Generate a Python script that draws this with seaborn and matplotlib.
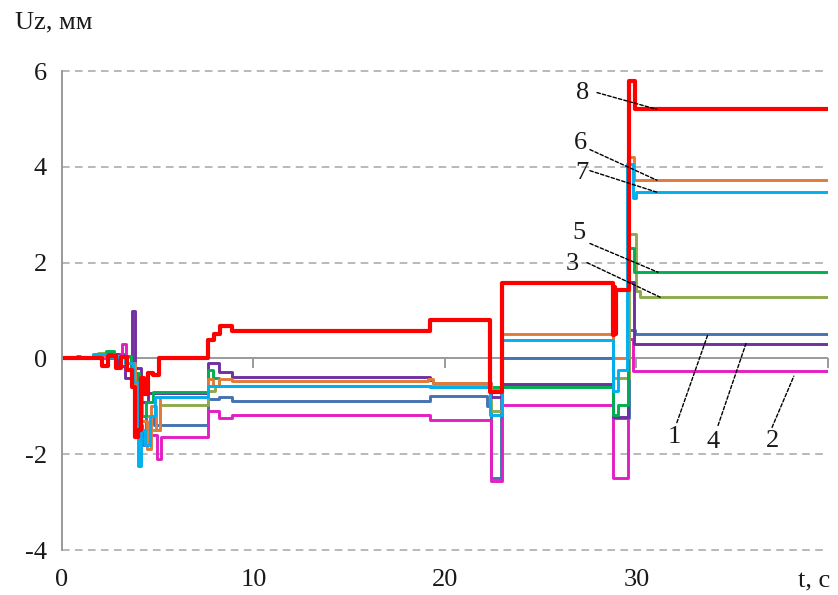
import numpy as np
import pandas as pd
import matplotlib
matplotlib.use("Agg")
import matplotlib.pyplot as plt
import seaborn as sns

# Vertical displacement Uz (mm) of eight points versus time t (s), step-wise records
t_1 = [0, 1.8, 2.6, 3.3, 3.7, 3.9, 4.1, 4.4, 4.8, 7.6, 8.2, 8.9, 19.2, 22.2, 22.4, 22.95, 28.75, 29.6, 29.9, 40]
uz_1 = [0, 0.08, 0.1, -0.1, -0.4, -1.2, -1.6, -1.2, -1.38, -0.84, -0.8, -0.88, -0.79, -1.0, -2.5, 0.0, -1.25, 0.6, 0.5, 0.5]

t_2 = [0, 0.8, 0.95, 3.0, 3.15, 3.35, 3.6, 3.9, 4.2, 4.6, 4.95, 5.15, 7.6, 8.2, 8.9, 19.2, 22.4, 23.0, 28.75, 29.55, 29.8, 40]
uz_2 = [0, 0.05, 0, 0.1, 0.3, 0.05, -0.3, -1.4, -1.8, -1.6, -2.1, -1.65, -1.09, -1.25, -1.19, -1.29, -2.55, -0.98, -2.5, 0.4, -0.27, -0.27]

t_3 = [0, 1.9, 2.7, 3.4, 3.8, 4.2, 4.6, 5.1, 7.6, 8.0, 22.4, 23.0, 28.8, 29.6, 30.0, 30.2, 40]
uz_3 = [0, 0.12, 0.05, -0.1, -0.5, -1.2, -1.5, -0.98, -0.67, -0.57, -1.1, -0.57, -0.4, 2.6, 1.4, 1.28, 1.28]

t_4 = [0, 2.0, 2.9, 3.3, 3.65, 3.82, 4.1, 4.5, 7.6, 8.2, 8.9, 19.2, 19.4, 22.4, 23.0, 28.8, 29.55, 29.85, 40]
uz_4 = [0, 0.1, -0.15, -0.4, 1.0, -0.2, -0.9, -0.72, -0.1, -0.29, -0.39, -0.45, -0.52, -0.8, -0.53, -1.23, 1.6, 0.31, 0.31]

t_5 = [0, 1.8, 2.3, 2.7, 3.6, 4.0, 4.4, 4.75, 7.6, 7.9, 8.2, 19.2, 23.0, 28.75, 29.05, 29.55, 29.85, 40]
uz_5 = [0, 0.1, 0.15, 0.05, -0.3, -1.2, -0.9, -0.7, -0.25, -0.4, -0.57, -0.6, -0.6, -1.19, -0.98, 2.3, 1.8, 1.8]

t_6 = [0, 2.0, 3.3, 3.8, 4.1, 4.45, 4.65, 4.9, 5.1, 7.6, 7.9, 8.2, 8.9, 19.1, 19.35, 22.4, 23.0, 28.8, 29.55, 29.85, 40]
uz_6 = [0, 0.05, -0.1, -0.6, -1.3, -1.9, -1.0, -1.5, -0.81, -0.42, -0.57, -0.42, -0.48, -0.42, -0.52, -0.65, 0.52, 0.0, 4.2, 3.72, 3.72]

t_7 = [0, 1.6, 2.3, 3.3, 3.7, 3.95, 4.1, 4.35, 4.6, 4.85, 7.6, 19.2, 22.35, 23.0, 28.8, 29.05, 29.5, 29.8, 29.95, 40]
uz_7 = [0, 0.1, 0.02, -0.1, -0.5, -2.25, -1.5, -1.8, -1.2, -0.81, -0.57, -0.6, -1.19, 0.39, -0.67, -0.25, 4.05, 3.35, 3.47, 3.47]

t_8 = [0, 2.1, 2.4, 2.8, 3.1, 3.4, 3.65, 3.8, 3.95, 4.1, 4.3, 4.5, 4.75, 5.05, 7.6, 7.95, 8.25, 8.9,
       19.2, 22.35, 23.0, 28.75, 28.82, 28.88, 28.95, 29.6, 29.9, 40]
uz_8 = [0, -0.15, 0.05, -0.2, 0.02, -0.25, -0.6, -1.65, -1.5, -0.4, -0.75, -0.3, -0.35, 0, 0.38, 0.52, 0.68, 0.58,
        0.8, -0.7, 1.58, 0.48, 1.5, 0.5, 1.42, 5.8, 5.2, 5.2]

curve_names = ["1", "2", "3", "4", "5", "6", "7", "8"]
curve_colors = ["#4572B0", "#E21FC3", "#8FAA4C", "#7030A0", "#00B050", "#E07B39", "#00B0F0", "#FF0000"]

x_ticks = [0, 10, 20, 30]
y_ticks = [-4, -2, 0, 2, 4, 6]

times = [t_1, t_2, t_3, t_4, t_5, t_6, t_7, t_8]
values = [uz_1, uz_2, uz_3, uz_4, uz_5, uz_6, uz_7, uz_8]

frames = [pd.DataFrame({"t": t, "uz": u, "curve": name})
          for t, u, name in zip(times, values, curve_names)]
data = pd.concat(frames, ignore_index=True)

sns.set_style("white")
plt.rcParams["font.family"] = ["Liberation Serif", "DejaVu Serif"]
plt.rcParams["axes.unicode_minus"] = False

fig = plt.figure(figsize=(8.38, 5.95), dpi=100)
ax = fig.add_axes([0.074, 0.0756, 0.914, 0.805])

grid_gray = "#A6A6A6"
axis_gray = "#9A9A9A"

# dashed horizontal grid, solid zero line with downward tick marks
ax.hlines([y for y in y_ticks if y != 0], 0, 40, colors=grid_gray, linewidth=1.1,
          linestyles=[(0, (5, 3.5))], clip_on=False, zorder=0)
ax.axhline(0, color=axis_gray, linewidth=1.4, zorder=0.5)
ax.vlines([10, 20, 30, 40], -0.2, 0, colors=axis_gray, linewidth=1.4, zorder=0.5, clip_on=False)

for name, color in zip(curve_names, curve_colors):
    sub = data[data["curve"] == name]
    sns.lineplot(data=sub, x="t", y="uz", ax=ax, color=color, estimator=None, sort=False,
                 drawstyle="steps-post", linewidth=3.0 if name == "8" else 2.1,
                 legend=False, zorder=2)

ax.set_xlim(0, 40)
ax.set_ylim(-4, 6)
ax.set_xlabel("")
ax.set_ylabel("")

for side in ["top", "right", "bottom"]:
    ax.spines[side].set_visible(False)
ax.spines["left"].set_color(axis_gray)
ax.spines["left"].set_linewidth(1.4)

ax.set_yticks(y_ticks)
ax.set_yticklabels([str(v) for v in y_ticks])
ax.set_xticks(x_ticks)
ax.set_xticklabels([str(v) for v in x_ticks])
ax.tick_params(axis="y", length=7, width=1.4, color=axis_gray, pad=4, labelsize=19, labelcolor="#1A1A1A")
ax.tick_params(axis="x", length=0, pad=14, labelsize=19, labelcolor="#1A1A1A")

ax.text(39.3, -4, "t, с", transform=ax.transData, ha="center", va="top", fontsize=19,
        color="#1A1A1A").set_position((39.3, -4.42))
fig.text(15 / 838, 1 - 22 / 595, "Uz, мм", ha="left", va="center", fontsize=19, color="#1A1A1A")

# numbered callouts with dashed leaders to the settled levels
callouts = [
    ("8", (27.2, 5.55), (27.94, 5.55), (31.07, uz_8[-1])),
    ("6", (27.05, 4.49), (27.57, 4.36), (31.07, uz_6[-1])),
    ("7", (27.15, 3.88), (27.57, 3.92), (31.07, uz_7[-1])),
    ("5", (27.0, 2.61), (27.57, 2.40), (31.12, uz_5[-1])),
    ("3", (26.63, 1.98), (27.42, 2.00), (31.23, uz_3[-1])),
    ("1", (31.96, -1.63), (32.11, -1.34), (33.73, uz_1[-1])),
    ("4", (34.0, -1.75), (34.26, -1.40), (35.72, uz_4[-1])),
    ("2", (37.13, -1.73), (37.08, -1.44), (38.22, uz_2[-1] - 0.1)),
]
for label, text_pos, start, end in callouts:
    ax.annotate("", xy=end, xytext=start,
                arrowprops=dict(arrowstyle="-", color="black", lw=1.0,
                                linestyle=(0, (2.5, 1.5)), shrinkA=0, shrinkB=0),
                zorder=3)
    ax.text(text_pos[0], text_pos[1], label, ha="center", va="center", fontsize=19,
            color="#1A1A1A", zorder=4)

fig.savefig("out.png", dpi=100)
